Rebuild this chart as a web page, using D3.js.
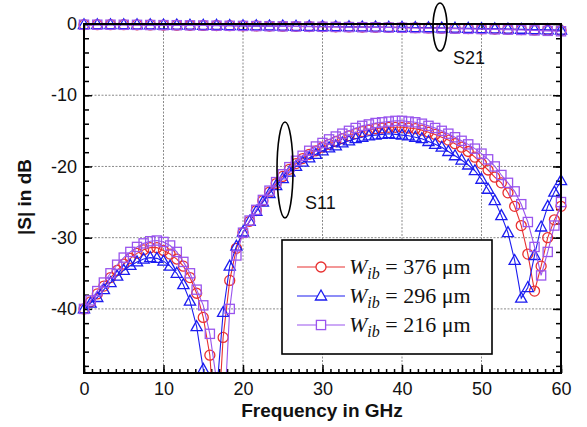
<!DOCTYPE html>
<html><head><meta charset="utf-8">
<script src="https://cdn.jsdelivr.net/npm/d3@7"></script>
<style>body{margin:0;background:#fff}svg{display:block}</style>
</head><body>
<svg id="chart" width="587" height="427"></svg>
<script>
// Frequencies (GHz) for S11 samples
const freqS11 = [0,0.83,1.67,2.5,3.33,4.17,5,5.83,6.67,7.5,8.33,9.17,10,10.83,11.67,12.5,13.33,14.17,15,15.83,16.67,17.5,18.33,19.17,20,20.83,21.67,22.5,23.33,24.17,25,25.83,26.67,27.5,28.33,29.17,30,30.83,31.67,32.5,33.33,34.17,35,35.83,36.67,37.5,38.33,39.17,40,40.83,41.67,42.5,43.33,44.17,45,45.83,46.67,47.5,48.33,49.17,50,50.83,51.67,52.5,53.33,54.17,55,55.83,56.67,57.5,58.33,59.17,60];
// S11 in dB
const s11_376 = [-40,-39.0,-37.9,-36.8,-35.6,-34.6,-33.7,-32.9,-32.2,-31.7,-31.4,-31.4,-31.8,-32.3,-33.0,-34.0,-35.6,-37.8,-41.2,-46.5,-60,-44,-36,-31.5,-29.3,-27.7,-26.2,-24.8,-23.6,-22.4,-21.4,-20.4,-19.6,-18.9,-18.3,-17.8,-17.3,-16.9,-16.5,-16.1,-15.7,-15.4,-15.1,-14.9,-14.7,-14.6,-14.5,-14.5,-14.5,-14.6,-14.7,-14.9,-15.2,-15.5,-15.9,-16.3,-16.8,-17.3,-17.9,-18.7,-19.6,-20.5,-21.5,-22.3,-23.7,-25.6,-28.3,-32.3,-37.5,-34.0,-30.0,-27.5,-25.6];
const s11_296 = [-40,-39.2,-38.4,-37.3,-36.3,-35.4,-34.6,-33.9,-33.4,-33.0,-32.8,-32.9,-33.3,-34.0,-35.0,-36.6,-38.9,-42.5,-48.5,-60,-52,-40.5,-34.0,-31.2,-29.2,-27.7,-26.3,-25.0,-23.8,-22.7,-21.7,-20.8,-20.0,-19.4,-18.8,-18.3,-17.8,-17.4,-17.1,-16.7,-16.4,-16.1,-15.9,-15.7,-15.6,-15.5,-15.4,-15.5,-15.6,-15.7,-15.9,-16.1,-16.5,-16.9,-17.3,-17.9,-18.5,-19.1,-19.8,-20.6,-21.8,-23.2,-24.8,-26.9,-29.3,-33.2,-38.5,-37.0,-32.5,-28.5,-25.6,-23.6,-22.0];
const s11_216 = [-40,-38.8,-37.5,-36.3,-35.0,-33.8,-32.8,-32.0,-31.3,-30.8,-30.5,-30.4,-30.6,-31.1,-32.0,-33.4,-35.0,-37.3,-39.5,-43.5,-50,-58,-40,-32.5,-29.3,-27.6,-26.1,-24.7,-23.4,-22.2,-21.1,-20.1,-19.2,-18.5,-17.8,-17.2,-16.7,-16.2,-15.8,-15.4,-15.0,-14.6,-14.3,-14.1,-13.9,-13.8,-13.7,-13.6,-13.6,-13.7,-13.8,-14.0,-14.3,-14.6,-15.0,-15.4,-15.9,-16.4,-16.9,-17.5,-18.2,-19.0,-20.0,-21.2,-22.3,-23.5,-25.3,-27.8,-31.3,-35.3,-32.0,-28.3,-25.0];
// Frequencies (GHz) for S21 samples
const freqS21 = [0,1.67,3.33,5,6.67,8.33,10,11.67,13.33,15,16.67,18.33,20,21.67,23.33,25,26.67,28.33,30,31.67,33.33,35,36.67,38.33,40,41.67,43.33,45,46.67,48.33,50,51.67,53.33,55,56.67,58.33,60];
// S21 in dB
const s21_376 = [-0.1,-0.1,-0.1,-0.1,-0.12,-0.13,-0.15,-0.16,-0.18,-0.2,-0.21,-0.23,-0.25,-0.27,-0.29,-0.31,-0.33,-0.35,-0.37,-0.39,-0.41,-0.43,-0.45,-0.47,-0.5,-0.52,-0.55,-0.58,-0.61,-0.64,-0.67,-0.7,-0.74,-0.78,-0.83,-0.88,-0.93];
const s21_296 = [-0.1,-0.1,-0.1,-0.1,-0.11,-0.12,-0.14,-0.15,-0.17,-0.19,-0.2,-0.22,-0.24,-0.26,-0.28,-0.3,-0.32,-0.34,-0.36,-0.38,-0.4,-0.42,-0.44,-0.46,-0.48,-0.5,-0.53,-0.56,-0.59,-0.62,-0.65,-0.68,-0.71,-0.74,-0.78,-0.82,-0.86];
const s21_216 = [-0.1,-0.1,-0.1,-0.11,-0.12,-0.14,-0.16,-0.17,-0.19,-0.21,-0.23,-0.25,-0.27,-0.29,-0.31,-0.33,-0.35,-0.37,-0.39,-0.41,-0.43,-0.45,-0.47,-0.5,-0.53,-0.56,-0.59,-0.62,-0.65,-0.68,-0.71,-0.75,-0.79,-0.84,-0.9,-0.96,-1.02];
const legendLabels = ["376 μm", "296 μm", "216 μm"];
const xTicks = [0,10,20,30,40,50,60];
const yTicks = [0,-10,-20,-30,-40];

const colors = ["#e83030", "#1c1cf0", "#9a55ee"];
const shapes = ["circle", "triangle", "square"];
const s11 = [s11_376, s11_296, s11_216];
const s21 = [s21_376, s21_296, s21_216];

const svg = d3.select("#chart");
const L = 84, R = 561, T = 24, B = 373;
const x = d3.scaleLinear().domain([0, 60]).range([L, R]);
const y = d3.scaleLinear().domain([-49, 0]).range([B, T]);

// grid
const grid = svg.append("g").attr("stroke", "#8a8a8a").attr("stroke-width", 1).attr("stroke-dasharray", "2,1.5");
xTicks.filter(t => t > 0 && t < 60).forEach(t => grid.append("line").attr("x1", x(t)).attr("x2", x(t)).attr("y1", T).attr("y2", B));
yTicks.filter(t => t < 0).forEach(t => grid.append("line").attr("x1", L).attr("x2", R).attr("y1", y(t)).attr("y2", y(t)));

// axes with inward ticks
const fontAx = "'Liberation Sans', Arial, sans-serif";
function styleAxis(g) {
  g.select(".domain").remove();
  g.selectAll("line").attr("stroke", "#000").attr("stroke-width", 1.5);
  g.selectAll("text").attr("font-family", fontAx).attr("font-size", 18).attr("fill", "#111");
}
const fmt = d => String(d);
const xMinor = d3.range(0, 61, 1), yMinor = d3.range(-48, 1, 2);
// bottom
svg.append("g").attr("transform", `translate(0,${B})`)
  .call(d3.axisBottom(x).tickValues(xMinor).tickSize(-4).tickFormat("")).call(styleAxis);
svg.append("g").attr("transform", `translate(0,${B})`)
  .call(d3.axisBottom(x).tickValues(xTicks).tickSize(-8).tickPadding(9).tickFormat(fmt)).call(styleAxis);
// top
svg.append("g").attr("transform", `translate(0,${T})`)
  .call(d3.axisTop(x).tickValues(xTicks).tickSize(-6).tickFormat("")).call(styleAxis);
// left
svg.append("g").attr("transform", `translate(${L},0)`)
  .call(d3.axisLeft(y).tickValues(yMinor).tickSize(-5).tickFormat("")).call(styleAxis);
svg.append("g").attr("transform", `translate(${L},0)`)
  .call(d3.axisLeft(y).tickValues(yTicks).tickSize(-8).tickPadding(7).tickFormat(fmt)).call(styleAxis);
// right
svg.append("g").attr("transform", `translate(${R},0)`)
  .call(d3.axisRight(y).tickValues(yMinor).tickSize(-5).tickFormat("")).call(styleAxis);
svg.append("g").attr("transform", `translate(${R},0)`)
  .call(d3.axisRight(y).tickValues(yTicks).tickSize(-8).tickFormat("")).call(styleAxis);

// clip (bottom only)
svg.append("clipPath").attr("id", "clip").append("rect").attr("x", 0).attr("y", 0).attr("width", 587).attr("height", B);
const plot = svg.append("g").attr("clip-path", "url(#clip)");

function marker(g, shape, cx, cy, color, fill) {
  if (shape === "circle") g.append("circle").attr("cx", cx).attr("cy", cy).attr("r", 5).attr("fill", fill).attr("stroke", color).attr("stroke-width", 1.3);
  else if (shape === "square") g.append("rect").attr("x", cx - 4.6).attr("y", cy - 4.6).attr("width", 9.2).attr("height", 9.2).attr("fill", fill).attr("stroke", color).attr("stroke-width", 1.3);
  else g.append("path").attr("d", `M${cx},${cy - 6}L${cx + 5.6},${cy + 4}L${cx - 5.6},${cy + 4}Z`).attr("fill", fill).attr("stroke", color).attr("stroke-width", 1.3);
}
const line = d3.line().x(d => x(d[0])).y(d => y(d[1]));
[0, 1, 2].forEach(i => {
  const g = plot.append("g");
  const d11 = freqS11.map((f, j) => [f, s11[i][j]]);
  const d21 = freqS21.map((f, j) => [f, s21[i][j]]);
  g.append("path").attr("d", line(d11)).attr("fill", "none").attr("stroke", colors[i]).attr("stroke-width", 1.1);
  g.append("path").attr("d", line(d21)).attr("fill", "none").attr("stroke", colors[i]).attr("stroke-width", 1.1);
  d11.forEach(d => marker(g, shapes[i], x(d[0]), y(d[1]), colors[i], "none"));
  d21.forEach(d => marker(g, shapes[i], x(d[0]), y(d[1]), colors[i], "none"));
});

// frame
svg.append("rect").attr("x", L).attr("y", T).attr("width", R - L).attr("height", B - T)
  .attr("fill", "none").attr("stroke", "#000").attr("stroke-width", 2);

// ellipses & labels
svg.append("ellipse").attr("cx", 440).attr("cy", 27).attr("rx", 7).attr("ry", 24).attr("fill", "none").attr("stroke", "#000").attr("stroke-width", 1.6);
svg.append("text").attr("x", 453).attr("y", 64).text("S21").attr("font-family", fontAx).attr("font-size", 18).attr("fill", "#111");
svg.append("ellipse").attr("cx", 285).attr("cy", 170).attr("rx", 8).attr("ry", 48).attr("fill", "none").attr("stroke", "#000").attr("stroke-width", 1.6);
svg.append("text").attr("x", 305).attr("y", 209).text("S11").attr("font-family", fontAx).attr("font-size", 18).attr("fill", "#111");

// legend
const lg = svg.append("g");
lg.append("rect").attr("x", 282).attr("y", 240).attr("width", 210).attr("height", 114).attr("fill", "#fff").attr("stroke", "#000").attr("stroke-width", 1.6);
const rowsY = [267, 296, 325];
legendLabels.forEach((lab, i) => {
  lg.append("line").attr("x1", 297).attr("x2", 345).attr("y1", rowsY[i]).attr("y2", rowsY[i]).attr("stroke", colors[i]).attr("stroke-width", 1.2);
  marker(lg, shapes[i], 321, rowsY[i], colors[i], "#fff");
  const t = lg.append("text").attr("x", 349).attr("y", rowsY[i] + 7).attr("font-family", "'Liberation Serif', 'Times New Roman', serif").attr("font-size", 22).attr("fill", "#111");
  t.append("tspan").attr("font-style", "italic").text("W");
  t.append("tspan").attr("font-style", "italic").attr("font-size", 16).attr("dy", 5).text("ib");
  t.append("tspan").attr("dy", -5).text(" = " + lab);
});

// axis titles
svg.append("text").attr("x", 322).attr("y", 417).attr("text-anchor", "middle").attr("font-family", fontAx).attr("font-weight", "bold").attr("font-size", 19).attr("fill", "#111").text("Frequency in GHz");
svg.append("text").attr("transform", "translate(31,197) rotate(-90)").attr("text-anchor", "middle").attr("font-family", fontAx).attr("font-weight", "bold").attr("font-size", 19).attr("fill", "#111").text("|S| in dB");
</script>
</body></html>
